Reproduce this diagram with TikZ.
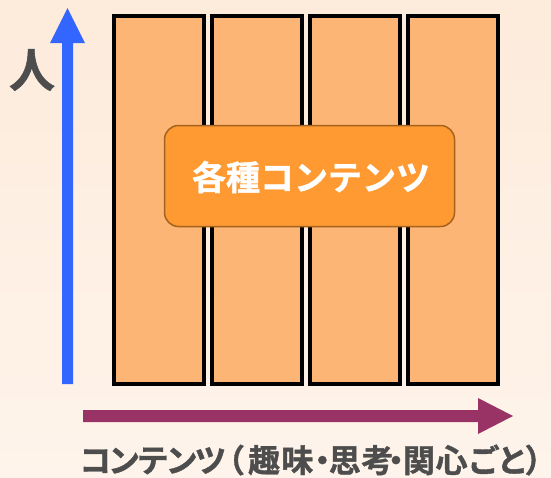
\documentclass[tikz,border=0pt]{standalone}
\usepackage{fontspec}
\newfontfamily\jp{Noto Sans CJK JP Bold}[FakeBold=1.2]
\definecolor{bgtop}{HTML}{FDEBDB}
\definecolor{bgbot}{HTML}{FEF4EB}
\definecolor{colfill}{HTML}{FDB575}
\definecolor{boxfill}{HTML}{FF9A33}
\definecolor{boxedge}{HTML}{A5621C}
\definecolor{bluearr}{HTML}{3366FF}
\definecolor{purparr}{HTML}{993366}
\definecolor{txtgray}{HTML}{4D4D4D}
\tikzset{
  colbox/.style={draw=black, line width=4pt, fill=colfill},
  lbl/.style={inner sep=0pt, text=txtgray},
}
\newcommand{\kk}{\kern-0.1em}
\begin{document}
\begin{tikzpicture}[x=1pt,y=-1pt]
\shade[top color=bgtop, bottom color=bgbot] (0,0) rectangle (551,477);
\useasboundingbox (0,0) rectangle (551,477);
% columns
\draw[colbox] (114,16) rectangle (204,384);
\draw[colbox] (212,16) rectangle (302,384);
\draw[colbox] (310,16) rectangle (400,384);
\draw[colbox] (408,16) rectangle (498,384);
% central box
\node[draw=boxedge, line width=1.5pt, fill=boxfill, rounded corners=14pt,
      minimum width=290pt, minimum height=101pt, inner sep=0pt] (box) at (309.5,176) {};
\node[inner sep=0pt, font=\jp\fontsize{34}{38}\selectfont, text=white] (boxt) at (311,177) {各種コンテンツ};
% blue arrow
\fill[bluearr] (62,384) -- (62,43) -- (50,43) -- (67.5,8) -- (85,43) -- (73,43) -- (73,384) -- cycle;
% purple arrow
\fill[purparr] (83,410) -- (478,410) -- (478,398) -- (513,416) -- (478,434) -- (478,422) -- (83,422) -- cycle;
% labels
\node[lbl, font=\jp\fontsize{46}{50}\selectfont] (ylab) at (32,70) {人};
\node[lbl, font=\jp\fontsize{32}{35}\selectfont, anchor=west] (xlab) at (79,460)
  {コ\kk ン\kk テ\kk ン\kk ツ\kern-0.42em（\kern0.1em趣\kern0.04em味\kern-0.22em・\kern-0.3em思\kern0.02em考\kern-0.42em・\kern-0.28em関\kern0.02em心ご\kern-0.1emと\kern-0.12em）\kern-0.6em};
\end{tikzpicture}
\end{document}
